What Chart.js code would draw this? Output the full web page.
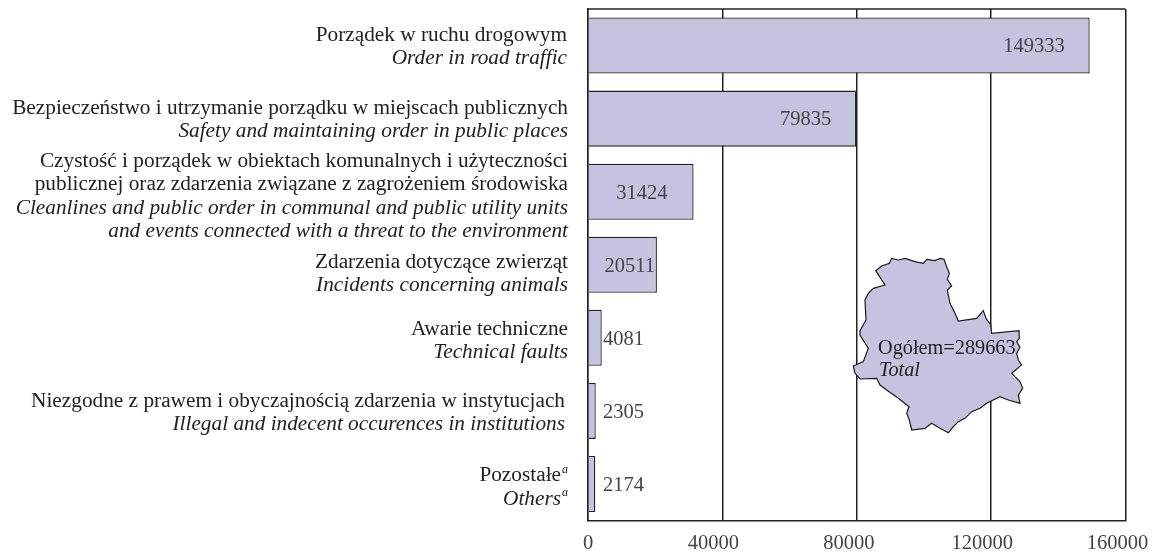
<!DOCTYPE html>
<html>
<head>
<meta charset="utf-8">
<script src="https://cdn.jsdelivr.net/npm/chart.js@4"></script>
<style>
    html, body { margin: 0; padding: 0; background: #fff; overflow: hidden; }
    #chart { display: block; }
</style>
</head>
<body>
<canvas id="chart" width="1153" height="554"></canvas>
<script>
const categories = ["Porządek w ruchu drogowym", "Bezpieczeństwo i utrzymanie porządku", "Czystość i porządek", "Zdarzenia dotyczące zwierząt", "Awarie techniczne", "Niezgodne z prawem", "Pozostałe"]
const values = [149333, 79835, 31424, 20511, 4081, 2305, 2174]
const polishLabels = [
    ["Porządek w ruchu drogowym"],
    ["Bezpieczeństwo i utrzymanie porządku w miejscach publicznych"],
    ["Czystość i porządek w obiektach komunalnych i użyteczności", "publicznej oraz zdarzenia związane z zagrożeniem środowiska"],
    ["Zdarzenia dotyczące zwierząt"],
    ["Awarie techniczne"],
    ["Niezgodne z prawem i obyczajnością zdarzenia w instytucjach"],
    ["Pozostałe"]
]
const englishLabels = [
    ["Order in road traffic"],
    ["Safety and maintaining order in public places"],
    ["Cleanlines and public order in communal and public utility units", "and events connected with a threat to the environment"],
    ["Incidents concerning animals"],
    ["Technical faults"],
    ["Illegal and indecent occurences in institutions"],
    ["Others"]
]
const totalLabel = "Ogółem=289663"
const totalLabelEn = "Total"

const barColor = "#c5c3e0"
const serif = "'Liberation Serif', serif"

// offset of first text line from the bar centre, the label blocks are not evenly placed
const labelTop = [-10.5, -10.5, -30.5, -2.5, -8.5, -9.5, -8.5]
const lineGap = 23.5
// right edge of value label relative to bar end, null means written just after the axis
const valueInset = [25, 25, 26, 2, null, null, null]
const labelRight = [567, 568, 568, 568, 568, 565, 561]
const footnoteRows = [6]
// axis numbers sit left of their gridlines, except the zero
const tickShift = [0, -9, -8, -9, -8]

const mapOutline = [[107,92],[125,78],[148,70],[155,55],[175,60],[195,55],[225,65],[250,70],[260,58],[285,62],[300,55],[312,58],[320,80],[328,100],[322,118],[335,138],[322,150],[330,190],[345,220],[355,243],[410,235],[430,212],[438,235],[452,255],[455,280],[537,272],[538,295],[530,305],[540,322],[530,340],[535,360],[545,375],[515,400],[540,425],[548,445],[535,465],[540,490],[505,480],[480,470],[440,490],[420,505],[395,515],[375,535],[355,545],[340,560],[325,578],[300,565],[275,550],[255,565],[215,570],[208,540],[200,520],[207,500],[175,475],[140,450],[120,435],[110,415],[60,417],[45,400],[40,378],[70,365],[85,325],[60,285],[60,272],[78,240],[75,180],[85,160],[100,145],[135,135]]

const textPlugin = {
    id: "textPlugin",
    afterDatasetsDraw(chart) {
        const ctx = chart.ctx
        const x = chart.scales.x
        const y = chart.scales.y
        const area = chart.chartArea

        ctx.save()
        // frame line on top, the x axis only gives the bottom one
        ctx.strokeStyle = "#222"
        ctx.lineWidth = 1.5
        ctx.beginPath()
        ctx.moveTo(area.left, area.top)
        ctx.lineTo(area.right, area.top)
        ctx.stroke()

        // map over the grid
        ctx.beginPath()
        mapOutline.forEach((p, i) => {
            const px = 840 + p[0] / 3
            const py = 240 + p[1] / 3
            if (i === 0) ctx.moveTo(px, py)
            else ctx.lineTo(px, py)
        })
        ctx.closePath()
        ctx.fillStyle = barColor
        ctx.fill()
        ctx.strokeStyle = "#1a1a1a"
        ctx.lineWidth = 1.2
        ctx.stroke()

        ctx.textBaseline = "middle"
        ctx.fillStyle = "#222"
        ctx.textAlign = "left"
        ctx.font = "20.3px " + serif
        ctx.fillText(totalLabel, 878, 349)
        ctx.font = "italic 20.3px " + serif
        ctx.fillText(totalLabelEn, 879, 371)

        // axis numbers
        ctx.fillStyle = "#444"
        ctx.textAlign = "center"
        ctx.font = "20.5px " + serif
        x.ticks.forEach((tick, i) => {
            ctx.fillText(String(tick.value), x.getPixelForValue(tick.value) + tickShift[i], 544)
        })

        // category labels and values
        categories.forEach((cat, i) => {
            const cy = y.getPixelForValue(i)
            let ly = cy + labelTop[i]
            ctx.fillStyle = "#222"
            ctx.textAlign = "right"
            ctx.font = "21.3px " + serif
            polishLabels[i].forEach(line => {
                ctx.fillText(line, labelRight[i], ly)
                ly += lineGap
            })
            ctx.font = "italic 21.3px " + serif
            englishLabels[i].forEach(line => {
                ctx.fillText(line, labelRight[i], ly)
                ly += lineGap
            })
            if (footnoteRows.includes(i)) {
                ctx.textAlign = "left"
                ctx.font = "italic 12px " + serif
                ctx.fillText("a", labelRight[i] + 1, cy + labelTop[i] - 6)
                ctx.fillText("a", labelRight[i] + 1, cy + labelTop[i] + lineGap - 6)
            }

            ctx.fillStyle = "#444"
            ctx.font = "20.5px " + serif
            if (valueInset[i] === null) {
                ctx.textAlign = "left"
                ctx.fillText(values[i], 603, cy + 1.5)
            } else {
                ctx.textAlign = "right"
                ctx.fillText(values[i], x.getPixelForValue(values[i]) - valueInset[i], cy + 1.5)
            }
        })
        ctx.restore()
    }
}

new Chart(document.getElementById("chart"), {
    type: "bar",
    data: {
        labels: categories,
        datasets: [{
            data: values,
            backgroundColor: barColor,
            borderColor: "#222",
            borderWidth: 1.3,
            categoryPercentage: 1,
            barPercentage: 0.767
        }]
    },
    plugins: [textPlugin],
    options: {
        indexAxis: "y",
        responsive: false,
        animation: false,
        layout: { padding: { left: 588, right: 27.5, top: 9, bottom: 0 } },
        plugins: { legend: { display: false }, tooltip: { enabled: false } },
        scales: {
            x: {
                min: 0,
                max: 160000,
                afterFit(scale) {
                    scale.height = 33.5
                    scale.paddingLeft = 0
                    scale.paddingRight = 0
                },
                border: { color: "#222", width: 1.5 },
                grid: { color: "#222", lineWidth: 1.5, drawTicks: false },
                ticks: { stepSize: 40000, display: false }
            },
            y: {
                afterFit(scale) { scale.width = 0 },
                border: { color: "#222", width: 1.5 },
                grid: { display: false },
                ticks: { display: false }
            }
        }
    }
})
</script>
</body>
</html>
